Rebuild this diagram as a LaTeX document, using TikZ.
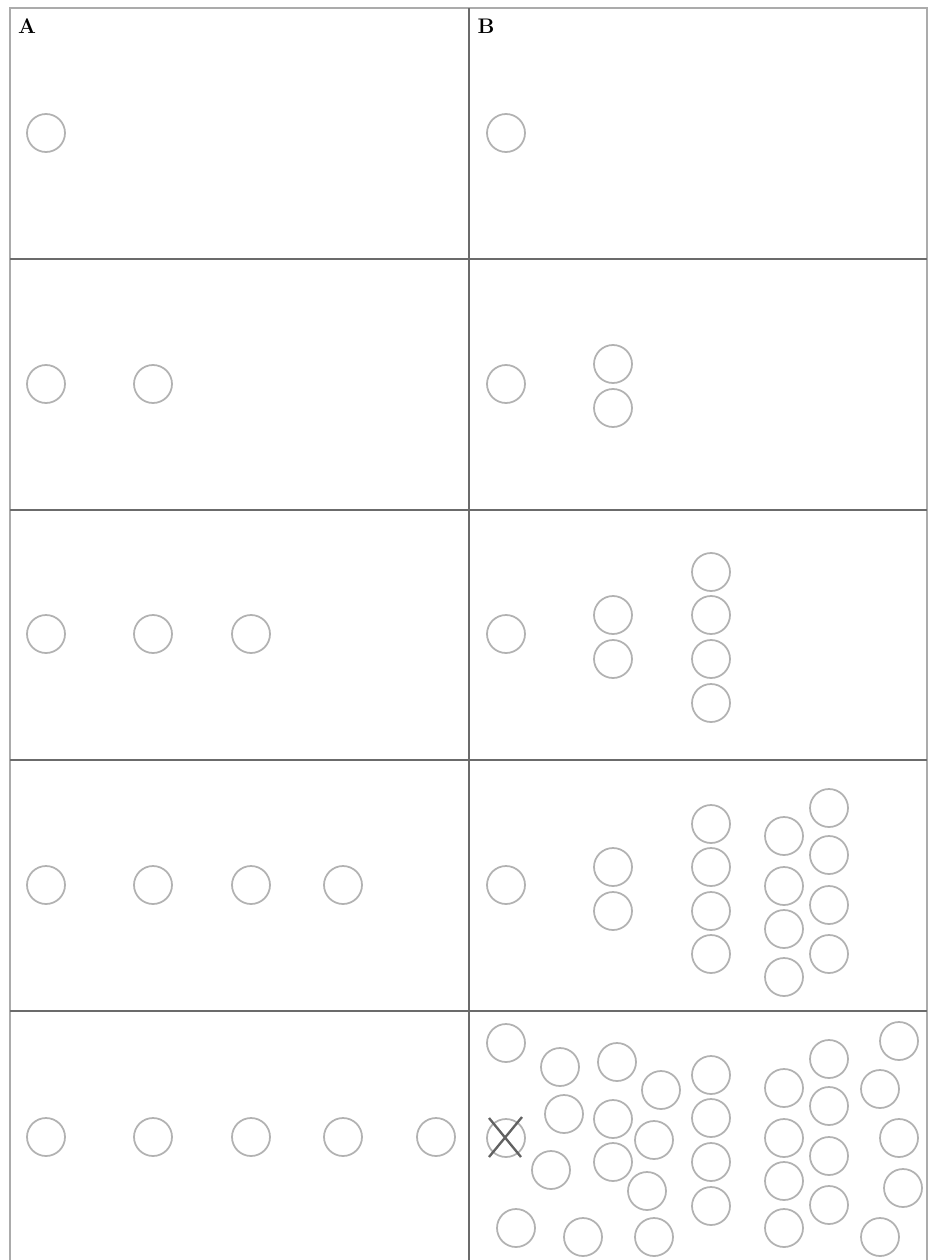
\documentclass[tikz,border=0pt]{standalone}
\usepackage{tikz}

\begin{document}
\begin{tikzpicture}[x=0.03cm,y=-0.03cm,
  ball/.style={draw=black!30,line width=1.5pt,circle,minimum size=1.14cm,inner sep=0pt},
  frame/.style={draw=black!33,line width=1.2pt},
  divider/.style={draw=black!58,line width=1.6pt},
  panel label/.style={font=\fontsize{18}{21}\selectfont\bfseries,inner sep=0pt}]
\path[use as bounding box] (0,0) rectangle (933,1260);

% frame and panel lines
\path[frame] (10,1260) -- (10,8) -- (927,8) -- (927,1260);
\path[divider] (10,259) -- (927,259);
\path[divider] (10,510) -- (927,510);
\path[divider] (10,760) -- (927,760);
\path[divider] (10,1011) -- (927,1011);
\path[divider] (469,8) -- (469,1260);

\node[panel label] (labA) at (27,26) {A};
\node[panel label] (labB) at (486,26) {B};

% column A
\node[ball] (a11) at (46,133) {};

\node[ball] (a21) at (46,384) {};
\node[ball] (a22) at (153,384) {};

\node[ball] (a31) at (46,634) {};
\node[ball] (a32) at (153,634) {};
\node[ball] (a33) at (251,634) {};

\node[ball] (a41) at (46,885) {};
\node[ball] (a42) at (153,885) {};
\node[ball] (a43) at (251,885) {};
\node[ball] (a44) at (343,885) {};

\node[ball] (a51) at (46,1137) {};
\node[ball] (a52) at (153,1137) {};
\node[ball] (a53) at (251,1137) {};
\node[ball] (a54) at (343,1137) {};
\node[ball] (a55) at (436,1137) {};

% column B
\node[ball] (b11) at (506,133) {};

\node[ball] (b21) at (506,384) {};
\node[ball] (b22) at (613,364) {};
\node[ball] (b23) at (613,408) {};

\node[ball] (b31) at (506,634) {};
\node[ball] (b32) at (613,615) {};
\node[ball] (b33) at (613,659) {};
\node[ball] (b34) at (711,572) {};
\node[ball] (b35) at (711,615) {};
\node[ball] (b36) at (711,659) {};
\node[ball] (b37) at (711,703) {};

\node[ball] (b41) at (506,885) {};
\node[ball] (b42) at (613,867) {};
\node[ball] (b43) at (613,911) {};
\node[ball] (b44) at (711,824) {};
\node[ball] (b45) at (711,867) {};
\node[ball] (b46) at (711,911) {};
\node[ball] (b47) at (711,954) {};
\node[ball] (b48) at (784,836) {};
\node[ball] (b49) at (784,886) {};
\node[ball] (b410) at (784,929) {};
\node[ball] (b411) at (784,977) {};
\node[ball] (b412) at (829,808) {};
\node[ball] (b413) at (829,855) {};
\node[ball] (b414) at (829,905) {};
\node[ball] (b415) at (829,954) {};

\node[ball] (b51) at (506,1043) {};
\node[ball] (b52) at (560,1067) {};
\node[ball] (b53) at (617,1062) {};
\node[ball] (b54) at (661,1090) {};
\node[ball] (b55) at (711,1075) {};
\node[ball] (b56) at (564,1114) {};
\node[ball] (b57) at (613,1119) {};
\node[ball] (b58) at (654,1140) {};
\node[ball] (b59) at (711,1118) {};
\node[ball] (b510) at (506,1138) {};
\node[ball] (b511) at (551,1170) {};
\node[ball] (b512) at (613,1162) {};
\node[ball] (b513) at (647,1191) {};
\node[ball] (b514) at (711,1162) {};
\node[ball] (b515) at (711,1206) {};
\node[ball] (b516) at (516,1228) {};
\node[ball] (b517) at (583,1237) {};
\node[ball] (b518) at (654,1237) {};
\node[ball] (b519) at (784,1088) {};
\node[ball] (b520) at (829,1059) {};
\node[ball] (b521) at (899,1041) {};
\node[ball] (b522) at (880,1089) {};
\node[ball] (b523) at (829,1106) {};
\node[ball] (b524) at (784,1138) {};
\node[ball] (b525) at (899,1138) {};
\node[ball] (b526) at (829,1156) {};
\node[ball] (b527) at (784,1181) {};
\node[ball] (b528) at (903,1188) {};
\node[ball] (b529) at (829,1205) {};
\node[ball] (b530) at (784,1228) {};
\node[ball] (b531) at (880,1237) {};

% crossed out
\draw[black!62,line width=2pt] (489,1118) -- (521,1157);
\draw[black!62,line width=2pt] (522,1117) -- (489,1157);
\end{tikzpicture}
\end{document}
